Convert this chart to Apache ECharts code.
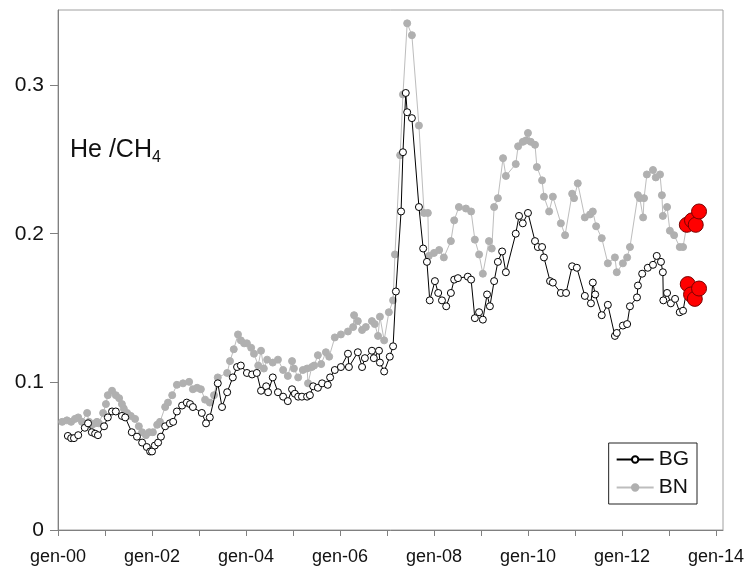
<!DOCTYPE html>
<html lang="it" style="height: 100%">
<head>
  <meta charset="utf-8">
</head>
<body style="height: 100%; margin: 0; background: #fff">
<div id="container" style="width: 747px; height: 570px"></div>

<script type="text/javascript" src="https://fastly.jsdelivr.net/npm/echarts@6/dist/echarts.min.js"></script>
<script type="text/javascript">
  // [anno decimale, He/CH4]
  var bgPoints = [
    [2000.21,0.0635],[2000.28,0.062],[2000.34,0.062],[2000.43,0.064],[2000.57,0.069],[2000.64,0.072],[2000.72,0.066],
    [2000.79,0.065],[2000.85,0.064],[2000.98,0.070],[2001.06,0.076],[2001.15,0.080],[2001.23,0.080],[2001.36,0.077],
    [2001.43,0.076],[2001.57,0.066],[2001.68,0.063],[2001.79,0.059],[2001.89,0.056],[2001.96,0.053],[2002.00,0.053],
    [2002.06,0.057],[2002.13,0.059],[2002.19,0.063],[2002.28,0.070],[2002.38,0.072],[2002.45,0.073],[2002.53,0.080],
    [2002.64,0.084],[2002.74,0.086],[2002.81,0.085],[2002.87,0.083],[2003.06,0.079],[2003.15,0.072],[2003.23,0.076],
    [2003.40,0.099],[2003.49,0.083],[2003.60,0.093],[2003.72,0.103],[2003.81,0.110],[2003.89,0.111],[2004.02,0.106],
    [2004.13,0.105],[2004.23,0.106],[2004.32,0.094],[2004.43,0.097],[2004.47,0.093],[2004.57,0.103],[2004.68,0.093],
    [2004.79,0.090],[2004.89,0.087],[2004.98,0.095],[2005.04,0.092],[2005.11,0.090],[2005.19,0.090],[2005.30,0.090],
    [2005.36,0.091],[2005.43,0.097],[2005.53,0.096],[2005.62,0.099],[2005.74,0.098],[2005.79,0.103],[2005.89,0.108],
    [2006.02,0.110],[2006.17,0.119],[2006.19,0.110],[2006.38,0.120],[2006.47,0.110],[2006.53,0.116],[2006.68,0.121],
    [2006.72,0.116],[2006.83,0.121],[2006.85,0.113],[2006.94,0.107],[2007.06,0.117],[2007.13,0.124],[2007.19,0.161],
    [2007.30,0.215],[2007.34,0.255],[2007.40,0.295],[2007.43,0.282],[2007.53,0.278],[2007.68,0.218],[2007.77,0.190],
    [2007.85,0.181],[2007.91,0.155],[2008.02,0.168],[2008.09,0.160],[2008.17,0.155],[2008.26,0.151],[2008.36,0.160],
    [2008.43,0.169],[2008.51,0.170],[2008.72,0.171],[2008.79,0.169],[2008.87,0.143],[2008.96,0.147],[2009.04,0.142],
    [2009.13,0.159],[2009.19,0.151],[2009.28,0.168],[2009.36,0.181],[2009.45,0.188],[2009.53,0.174],[2009.74,0.200],
    [2009.81,0.212],[2009.89,0.207],[2010.00,0.214],[2010.15,0.195],[2010.21,0.191],[2010.30,0.191],[2010.34,0.184],
    [2010.47,0.168],[2010.53,0.167],[2010.70,0.160],[2010.81,0.160],[2010.94,0.178],[2011.04,0.177],[2011.21,0.158],
    [2011.34,0.153],[2011.38,0.167],[2011.43,0.159],[2011.57,0.145],[2011.70,0.152],[2011.85,0.131],[2011.89,0.133],
    [2012.02,0.138],[2012.11,0.139],[2012.17,0.151],[2012.32,0.157],[2012.34,0.165],[2012.43,0.173],[2012.55,0.177],
    [2012.66,0.179],[2012.74,0.185],[2012.83,0.181],[2012.87,0.174],[2012.88,0.155],[2012.96,0.160],[2013.04,0.153],
    [2013.13,0.156],[2013.23,0.147],[2013.30,0.148]
  ];
  var bgRecent = [[2013.40,0.166],[2013.47,0.159],[2013.55,0.156],[2013.64,0.163]];

  var bnPoints = [
    [2000.09,0.073],[2000.19,0.074],[2000.28,0.073],[2000.36,0.075],[2000.43,0.076],[2000.51,0.073],[2000.62,0.079],
    [2000.66,0.073],[2000.72,0.071],[2000.79,0.072],[2000.83,0.073],[2000.87,0.072],[2000.96,0.079],[2001.02,0.085],
    [2001.06,0.091],[2001.15,0.094],[2001.23,0.091],[2001.30,0.089],[2001.36,0.085],[2001.40,0.082],[2001.47,0.079],
    [2001.55,0.077],[2001.64,0.075],[2001.72,0.070],[2001.79,0.066],[2001.87,0.064],[2001.94,0.066],[2002.02,0.066],
    [2002.11,0.071],[2002.17,0.073],[2002.28,0.083],[2002.34,0.086],[2002.43,0.091],[2002.53,0.098],[2002.66,0.099],
    [2002.79,0.100],[2002.87,0.095],[2002.96,0.096],[2003.04,0.095],[2003.13,0.088],[2003.23,0.086],[2003.32,0.091],
    [2003.40,0.103],[2003.60,0.106],[2003.66,0.114],[2003.74,0.122],[2003.83,0.132],[2003.89,0.128],[2003.96,0.126],
    [2004.02,0.126],[2004.11,0.123],[2004.17,0.119],[2004.26,0.111],[2004.32,0.121],[2004.38,0.109],[2004.45,0.115],
    [2004.57,0.113],[2004.68,0.115],[2004.79,0.108],[2004.89,0.104],[2004.98,0.114],[2005.02,0.109],[2005.11,0.103],
    [2005.21,0.108],[2005.30,0.109],[2005.32,0.099],[2005.40,0.110],[2005.45,0.111],[2005.53,0.118],[2005.60,0.112],
    [2005.70,0.120],[2005.77,0.117],[2005.89,0.130],[2006.02,0.132],[2006.17,0.134],[2006.28,0.137],[2006.30,0.145],
    [2006.38,0.141],[2006.47,0.135],[2006.55,0.137],[2006.68,0.141],[2006.74,0.139],[2006.81,0.131],[2006.85,0.144],
    [2006.94,0.128],[2007.04,0.147],[2007.13,0.155],[2007.17,0.186],[2007.28,0.253],[2007.34,0.294],[2007.43,0.342],
    [2007.53,0.334],[2007.68,0.273],[2007.79,0.214],[2007.87,0.214],[2007.89,0.185],[2008.00,0.187],[2008.11,0.189],
    [2008.21,0.184],[2008.36,0.195],[2008.43,0.209],[2008.53,0.218],[2008.68,0.217],[2008.79,0.215],[2008.87,0.196],
    [2008.96,0.186],[2009.04,0.173],[2009.17,0.195],[2009.23,0.190],[2009.28,0.218],[2009.36,0.224],[2009.47,0.251],
    [2009.53,0.239],[2009.74,0.247],[2009.79,0.259],[2009.89,0.262],[2009.96,0.263],[2010.00,0.268],[2010.06,0.262],
    [2010.15,0.260],[2010.19,0.245],[2010.30,0.236],[2010.34,0.225],[2010.45,0.215],[2010.53,0.225],[2010.70,0.207],
    [2010.79,0.199],[2010.94,0.227],[2010.98,0.224],[2011.06,0.234],[2011.21,0.211],[2011.32,0.213],[2011.38,0.215],
    [2011.45,0.205],[2011.57,0.197],[2011.70,0.180],[2011.85,0.184],[2011.89,0.174],[2012.02,0.180],[2012.11,0.184],
    [2012.17,0.191],[2012.34,0.226],[2012.38,0.224],[2012.45,0.211],[2012.47,0.224],[2012.53,0.240],[2012.66,0.243],
    [2012.72,0.238],[2012.81,0.240],[2012.85,0.226],[2012.87,0.212],[2012.96,0.218],[2013.02,0.202],[2013.11,0.199],
    [2013.23,0.191],[2013.30,0.191]
  ];
  var bnRecent = [[2013.38,0.206],[2013.49,0.209],[2013.57,0.206],[2013.64,0.215]];

  var yTicks = [0, 0.1, 0.2, 0.3];
  var xLabelYears = [2000, 2002, 2004, 2006, 2008, 2010, 2012, 2014];

  var font = 'Liberation Sans, Arial, sans-serif';

  function withRecent(points, recent) {
    var red = recent.map(function (p) {
      return {
        value: p,
        symbolSize: 15,
        itemStyle: { color: '#ff0000', borderColor: '#7a0000', borderWidth: 1 }
      };
    });
    return points.concat(red);
  }

  var dom = document.getElementById('container');
  var myChart = echarts.init(dom, null, { renderer: 'canvas' });

  var option = {
    animation: false,
    backgroundColor: '#fff',
    grid: {
      left: 58, right: 24, top: 10, bottom: 40,
      show: true, borderColor: '#a0a0a0', borderWidth: 1
    },
    legend: {
      data: ['BG', 'BN'],
      orient: 'vertical',
      right: 50, top: 443,
      padding: [6, 8, 6, 7],
      itemGap: 7,
      itemWidth: 37, itemHeight: 8,
      borderColor: '#222', borderWidth: 1,
      backgroundColor: '#fff',
      textStyle: { fontFamily: font, fontSize: 21, color: '#111' }
    },
    graphic: [{
      type: 'text',
      left: 70, top: 138,
      style: {
        text: '{a|He /CH}{s|4}',
        rich: {
          a: { fontFamily: font, fontSize: 25, fill: '#111' },
          s: { fontFamily: font, fontSize: 16, fill: '#111', padding: [14, 0, 0, 0] }
        }
      }
    }],
    xAxis: {
      type: 'value',
      min: 2000, max: 2014.15, interval: 1,
      splitLine: { show: false },
      axisLine: { onZero: false, lineStyle: { color: '#808080', width: 1 } },
      axisTick: { length: 6, lineStyle: { color: '#808080' } },
      axisLabel: {
        margin: 18, color: '#111', fontFamily: font, fontSize: 18,
        showMaxLabel: false,
        formatter: function (v) {
          var y = Math.round(v);
          if (Math.abs(v - y) > 1e-6 || xLabelYears.indexOf(y) < 0) return '';
          return 'gen-' + String(y % 100).padStart(2, '0');
        }
      }
    },
    yAxis: {
      type: 'value',
      min: 0, max: 0.351, interval: 0.1,
      splitLine: { show: false },
      axisLine: { show: true, lineStyle: { color: '#808080', width: 1 } },
      axisTick: { show: true, length: 8, lineStyle: { color: '#808080' } },
      axisLabel: {
        margin: 14, color: '#111', fontFamily: font, fontSize: 21,
        showMaxLabel: false,
        formatter: function (v) {
          for (var i = 0; i < yTicks.length; i++) {
            if (Math.abs(v - yTicks[i]) < 1e-6) return String(yTicks[i]);
          }
          return '';
        }
      }
    },
    series: [
      {
        name: 'BN',
        type: 'line',
        data: withRecent(bnPoints, bnRecent),
        symbol: 'circle',
        symbolSize: 7,
        showAllSymbol: true,
        lineStyle: { color: '#bdbdbd', width: 1 },
        itemStyle: { color: '#b0b0b0', borderColor: '#b0b0b0', borderWidth: 1 },
        z: 2
      },
      {
        name: 'BG',
        type: 'line',
        data: withRecent(bgPoints, bgRecent),
        symbol: 'circle',
        symbolSize: 7,
        showAllSymbol: true,
        lineStyle: { color: '#000', width: 1 },
        itemStyle: { color: '#fff', borderColor: '#000', borderWidth: 1 },
        z: 3
      }
    ]
  };

  myChart.setOption(option);
  window.addEventListener('resize', myChart.resize);
</script>
</body>
</html>
